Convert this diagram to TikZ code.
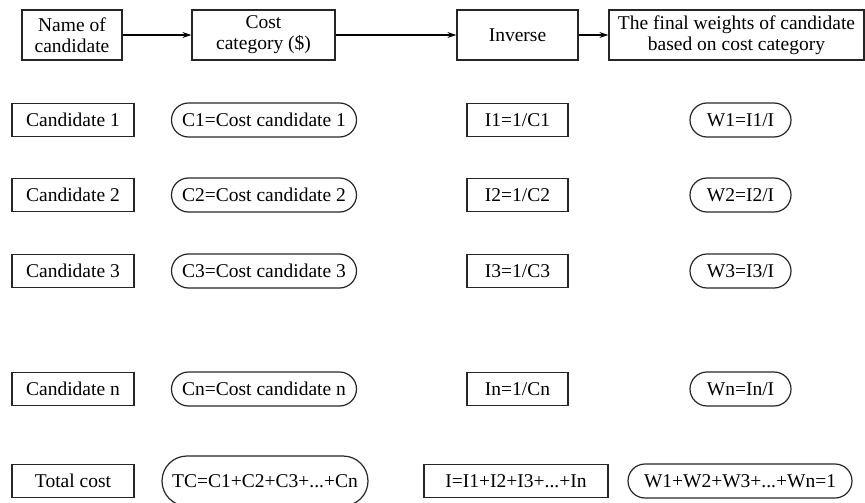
\documentclass[tikz,border=0pt]{standalone}
\usepackage{fontspec}
\setmainfont{Liberation Serif}
\usetikzlibrary{shapes.misc,arrows.meta}
\tikzset{
  base/.style={draw=black!85, line width=1.2pt, inner sep=0pt, align=center,
    font=\fontsize{19.5}{21}\selectfont},
  box/.style={base, rectangle},
  pill/.style={base, rounded rectangle},
  flow/.style={line width=1.2pt, -{Stealth[length=9pt,width=6pt,inset=3pt]}},
}
\begin{document}
\begin{tikzpicture}[x=1pt,y=-1pt]
\useasboundingbox (0,0) rectangle (865,503);
% header row
\node[box, minimum width=100pt, minimum height=50pt] (name) at (72,35) {Name of\\candidate};
\node[box, minimum width=143pt, minimum height=50pt] (cost) at (263.5,35) {Cost\\category (\$)};
\node[box, minimum width=121pt, minimum height=50pt] (inv) at (517.5,35) {Inverse};
\node[box, minimum width=255pt, minimum height=50pt] (fin) at (736.5,35) {The final weights of candidate\\based on cost category};
\draw[flow] (name) -- (cost);
\draw[flow] (cost) -- (inv);
\draw[flow] (inv) -- (fin);
% candidate rows
\foreach \k/\y in {1/120,2/195,3/271,n/389}{
  \node[box, minimum width=122pt, minimum height=33pt] (cand\k) at (73,\y) {Candidate \k};
  \node[pill, minimum width=185pt, minimum height=34pt] (c\k) at (264,\y) {C\k=Cost candidate \k};
  \node[box, minimum width=101pt, minimum height=33pt] (i\k) at (517.5,\y) {I\k=1/C\k};
  \node[pill, minimum width=101pt, minimum height=34pt] (w\k) at (740.5,\y) {W\k=I\k/I};
}
% totals
\node[box, minimum width=122pt, minimum height=33pt] (tot) at (73,481) {Total cost};
\node[pill, minimum width=206pt, minimum height=50pt] (tc) at (265,481) {TC=C1+C2+C3+...+Cn};
\node[box, minimum width=184pt, minimum height=33pt] (isum) at (516,481) {I=I1+I2+I3+...+In};
\node[pill, minimum width=224pt, minimum height=34pt] (wsum) at (740,481) {W1+W2+W3+...+Wn=1};
\end{tikzpicture}
\end{document}
